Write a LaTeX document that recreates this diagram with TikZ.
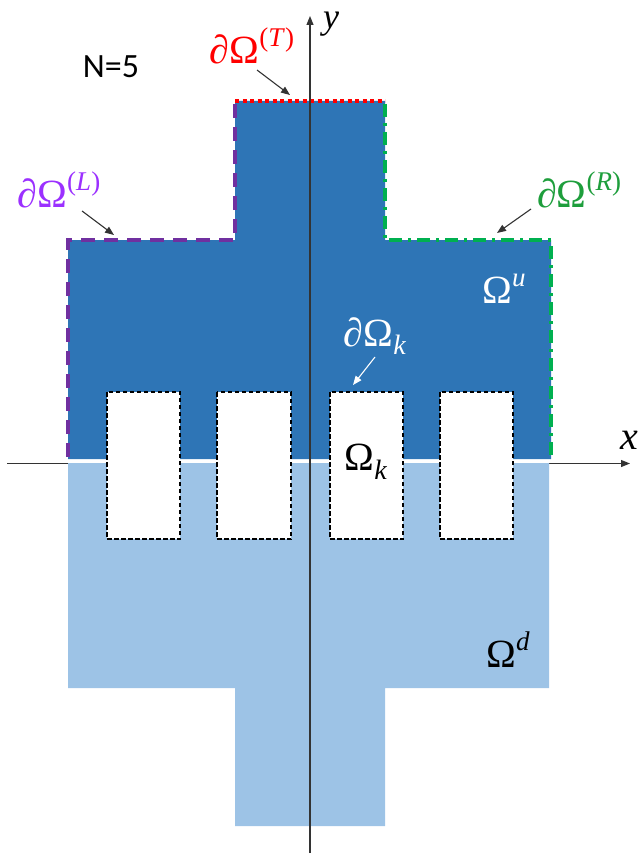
\documentclass[tikz,border=0pt]{standalone}
\usepackage{fontspec}
\usetikzlibrary{arrows.meta}
\newfontfamily\tnr{Liberation Serif}
\newfontfamily\calib{Carlito}
\definecolor{darkb}{HTML}{2E75B6}
\definecolor{lightb}{HTML}{9DC3E6}
\definecolor{bpurple}{HTML}{7030A0}
\definecolor{lpurple}{HTML}{9B30FF}
\definecolor{bgreen}{HTML}{00B050}
\definecolor{lgreen}{HTML}{1E9E3C}
\definecolor{bred}{HTML}{FF0000}
\newcommand\supx[1]{\raisebox{0.42em}{\fontsize{27}{30}\selectfont #1}}
\newcommand\subx[1]{\raisebox{-0.22em}{\fontsize{28}{30}\selectfont #1}}
\tikzset{
  lbl/.style={inner sep=0pt, font=\tnr\fontsize{40}{46}\selectfont},
  axisline/.style={line width=1.1pt, draw=black!80, -{Triangle[length=9pt,width=7pt]}},
  ptr/.style={line width=1.1pt, draw=black!80, -{Triangle[length=9pt,width=7pt]}},
  hole/.style={fill=white, draw=black, line width=2.2pt, dash pattern=on 4.5pt off 2.5pt},
  bT/.style={draw=bred, line width=4pt, dash pattern=on 4pt off 3.5pt},
  bL/.style={draw=bpurple, line width=4pt, dash pattern=on 14pt off 9pt},
  bR/.style={draw=bgreen, line width=4pt, dash pattern=on 13pt off 6pt on 3pt off 6pt},
}
\begin{document}
\begin{tikzpicture}[x=1pt,y=-1pt]
\useasboundingbox (0,0) rectangle (637,861);
% x-axis (behind the shapes)
\coordinate (xs) at (7,463.5);
\coordinate (xe) at (630,463.5);
\draw[axisline] (xs) -- (xe);
% lower domain
\fill[lightb] (68,463) -- (549,463) -- (549,688) -- (385,688) -- (385,826)
  -- (235,826) -- (235,688) -- (68,688) -- cycle;
% upper domain
\fill[darkb] (68,459) -- (68,240) -- (235,240) -- (235,101) -- (385,101)
  -- (385,240) -- (551,240) -- (551,459) -- cycle;
% holes
\foreach \a/\b in {107/180,217/291,330/403,440/513}{
  \draw[hole] (\a,392) rectangle (\b,539);
}
% boundaries
\draw[bT] (235,101) -- (385,101);
\draw[bL] (235,104) -- (235,240) -- (68,240) -- (68,459);
\draw[bR] (385,104) -- (385,240) -- (551,240) -- (551,459);
% y-axis
\coordinate (ys) at (310,853);
\coordinate (ye) at (310,16);
\draw[axisline] (ys) -- (ye);
% labels
\node[lbl, font=\tnr\itshape\fontsize{36}{40}\selectfont, anchor=base] (ylab) at (331,29) {y};
\node[lbl, font=\tnr\itshape\fontsize{40}{46}\selectfont, anchor=west] (xlab) at (620,440) {x};
\node[inner sep=0pt, font=\calib\fontsize{34}{40}\selectfont] (nlab) at (111,67) {N=5};
\node[lbl, text=bred] (tlab) at (252,46) {∂Ω\supx{(\textit{T})}};
\node[lbl, text=lpurple] (llab) at (59,190) {∂Ω\supx{(\textit{L})}};
\node[lbl, text=lgreen] (rlab) at (579,190) {∂Ω\supx{(\textit{R})}};
\node[lbl, text=white] (ulab) at (504,289) {Ω\supx{\textit{u}}};
\node[lbl, text=white] (klab) at (375,336) {∂Ω\subx{\textit{k}}};
\node[lbl] (oklab) at (366,462) {Ω\subx{\textit{k}}};
\node[lbl] (dlab) at (508,650) {Ω\supx{\textit{d}}};
% pointers
\coordinate (t1) at (257,70); \coordinate (t2) at (290,95);
\coordinate (l1) at (82,211); \coordinate (l2) at (114,235);
\coordinate (r1) at (531,209); \coordinate (r2) at (497,233);
\coordinate (k1) at (375,357); \coordinate (k2) at (353,385);
\draw[ptr] (t1) -- (t2);
\draw[ptr] (l1) -- (l2);
\draw[ptr] (r1) -- (r2);
\draw[ptr, draw=white] (k1) -- (k2);
\end{tikzpicture}
\end{document}
